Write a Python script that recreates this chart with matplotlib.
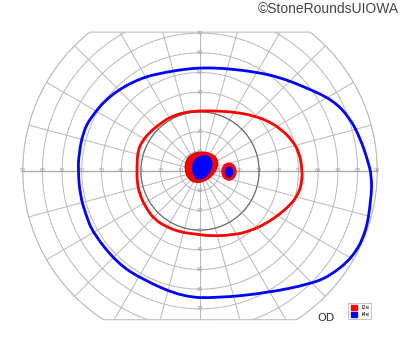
import numpy as np
import matplotlib
matplotlib.use('Agg')
import matplotlib.pyplot as plt
from matplotlib.patches import Polygon, Ellipse, Patch, PathPatch
from matplotlib.path import Path

# isopter I4e (blue), degrees of visual field (x temporal+, y superior+)
i4e_x = [-6.6, 0.0, 7.6, 15.2, 27.9, 40.1, 53.3, 67.5, 76.1, 81.2, 84.8, 87.3, 86.8, 84.3,
         77.7, 66.0, 55.8, 34.0, 8.6, -8.6, -28.9, -42.1, -54.3, -57.9, -60.9, -61.9,
         -61.4, -59.4, -55.8, -45.7, -30.5, -16.8]
i4e_y = [51.8, 52.3, 52.3, 51.8, 50.3, 47.7, 42.6, 36.0, 26.9, 16.8, 6.6, -3.0, -14.7, -31.0,
         -43.7, -53.3, -57.4, -61.9, -64.5, -64.0, -55.3, -46.7, -31.5, -22.3, -12.2, 0.5,
         9.1, 19.3, 26.9, 38.6, 47.2, 50.3]

# isopter I2e (red)
i2e_x = [0.0, 7.6, 17.8, 27.9, 35.5, 41.6, 46.7, 50.3, 51.8, 51.8, 49.7, 45.7, 40.6, 34.0,
         25.4, 16.8, 5.1, -2.5, -10.2, -16.8, -22.8, -27.4, -30.5, -32.0, -32.0, -31.5,
         -28.9, -25.4, -20.3, -15.2, -7.6]
i2e_y = [30.5, 30.5, 29.9, 27.9, 24.9, 20.8, 15.7, 9.6, 1.5, -5.6, -12.2, -17.3, -21.8, -26.4,
         -30.5, -32.5, -33.0, -32.0, -31.0, -28.4, -24.9, -18.8, -12.2, -5.6, 3.0, 10.7,
         15.7, 19.8, 23.9, 27.4, 29.9]

# central islands
c_red_x = [-7.6, -7.1, -4.1, 0.0, 5.1, 8.6, 9.1, 6.6, 2.5, -2.5, -6.1]
c_red_y = [0.5, 5.6, 8.6, 9.6, 9.1, 6.6, 2.5, -2.0, -5.1, -6.1, -3.6]
c_blue_x = [-4.1, -3.0, 0.0, 3.6, 6.1, 6.1, 3.6, 0.0, -3.0]
c_blue_y = [1.5, 5.6, 7.6, 8.1, 5.6, 1.5, -2.5, -4.6, -3.0]

# blind spot (center x, y, width, height)
bs_red = (14.7, -0.3, 7.1, 8.6)
bs_blue = (14.7, -0.5, 3.6, 5.1)

rings = [10, 20, 30, 40, 50, 60, 70, 80, 90]
h_labels = [10, 20, 30, 40, 50, 60, 70, 80, 90]
v_labels = [10, 20, 30, 40, 50, 60, 70]
TOP, BOT = 70.5, -75.5
GRID = '#b8b8b8'

scale = 1.97  # px per degree
W, H = 400, 352
cx, cy = 200, 171


def smooth_closed(xs, ys):
    """closed path, quadratic bezier with the points as control points"""
    p = np.column_stack([xs, ys])
    n = len(p)
    mids = (p + np.roll(p, -1, axis=0)) / 2
    verts = [mids[-1]]
    codes = [Path.MOVETO]
    for i in range(n):
        verts += [p[i], mids[i]]
        codes += [Path.CURVE3, Path.CURVE3]
    return Path(verts, codes)


fig = plt.figure(figsize=(W/100, H/100), dpi=100)
ax = fig.add_axes([0, 0, 1, 1])
ax.set_xlim(-cx/scale, (W-cx)/scale)
ax.set_ylim(-(H-cy)/scale, cy/scale)
ax.axis('off')

# chart boundary: 90 deg circle cut top and bottom
t = np.linspace(0, 2*np.pi, 721)
bx = 90*np.cos(t)
by = np.clip(90*np.sin(t), BOT, TOP)
clip = Polygon(np.column_stack([bx, by]), closed=True, fc='none', ec='none')
ax.add_patch(clip)

for r in rings:
    ln, = ax.plot(r*np.cos(t), r*np.sin(t), color=GRID, lw=0.7, zorder=1)
    ln.set_clip_path(clip)
ax.plot(bx, by, color=GRID, lw=0.7, zorder=1)
ax.plot(30*np.cos(t), 30*np.sin(t), color='#666666', lw=0.8, zorder=2)

for a in np.arange(0, 360, 15):
    ar = np.deg2rad(a)
    ln, = ax.plot([0, 95*np.cos(ar)], [0, 95*np.sin(ar)], color=GRID, lw=0.7, zorder=1)
    ln.set_clip_path(clip)
ax.plot([-90, 90], [0, 0], color='#a8a8a8', lw=0.9, zorder=1)

for v in h_labels:
    for s in (-1, 1):
        ax.text(s*v, 0, str(v), fontsize=3.5, color='#999999', ha='center', va='center', zorder=3)
for v in v_labels:
    ax.text(0, v, str(v), fontsize=3.5, color='#999999', ha='center', va='center', zorder=3)
    ax.text(0, -v, str(v), fontsize=3.5, color='#999999', ha='center', va='center', zorder=3)

ax.add_patch(PathPatch(smooth_closed(c_red_x, c_red_y), fc='#ff0000', ec='#e00000',
                       lw=1.2, zorder=5))
ax.add_patch(PathPatch(smooth_closed(c_blue_x, c_blue_y), fc='#0000ff', ec='#0000ff',
                       lw=0.8, zorder=6))
ax.add_patch(Ellipse(bs_red[:2], bs_red[2], bs_red[3], color='#ff0000', zorder=5))
ax.add_patch(Ellipse(bs_blue[:2], bs_blue[2], bs_blue[3], color='#0000ff', zorder=6))

ax.add_patch(PathPatch(smooth_closed(i4e_x, i4e_y), fc='none', ec='#0000ff', lw=2.0,
                       joinstyle='round', zorder=4))
ax.add_patch(PathPatch(smooth_closed(i2e_x, i2e_y), fc='none', ec='#ff0000', lw=2.0,
                       joinstyle='round', zorder=4))

handles = [Patch(color='#ff0000', label='I2e'), Patch(color='#0000ff', label='I4e')]
leg = fig.legend(handles=handles, loc='lower right', bbox_to_anchor=(374/W, 1-322/H),
                 fontsize=3.8, frameon=True, fancybox=False, handlelength=1.2,
                 handleheight=1.2, borderpad=0.4, labelspacing=0.3, handletextpad=0.8,
                 edgecolor='#aaaaaa')
leg.get_frame().set_linewidth(0.6)

fig.text(335/W, 1-318/H, 'OD', fontsize=8, color='#333333', ha='right', va='center')
fig.text(399/W, 1-9/H, '\u00a9StoneRoundsUIOWA', fontsize=10, color='#444444',
         ha='right', va='center', family='Liberation Sans')

fig.savefig('out.png', dpi=100)
